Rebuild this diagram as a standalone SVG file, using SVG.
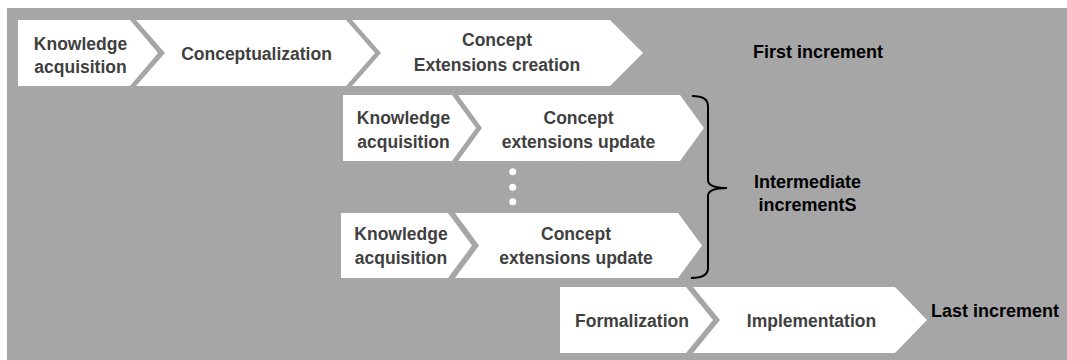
<svg xmlns="http://www.w3.org/2000/svg" width="1067" height="360" viewBox="0 0 1067 360">
<style>
.bg{fill:#a6a6a6}
.chev{fill:#ffffff}
.lbl{font-family:"Liberation Sans",Arial,sans-serif;font-weight:bold;font-size:17.5px;fill:#404040;text-anchor:middle}
.ttl{font-family:"Liberation Sans",Arial,sans-serif;font-weight:bold;font-size:18px;fill:#000000;text-anchor:middle}
.brace{fill:none;stroke:#000000;stroke-width:2}
</style>
<rect class="bg" x="7" y="8" width="1060" height="352"/>
<g id="row1-knowledge">
<polygon class="chev" points="18,20 130,20 158,53 130,86 18,86"/>
<text class="lbl" x="80.5" y="49.5">Knowledge</text>
<text class="lbl" x="80.5" y="73">acquisition</text>
</g>
<g id="row1-conceptualization">
<polygon class="chev" points="136,20 346,20 375,53 346,86 136,86 165,53"/>
<text class="lbl" x="256.5" y="59.5">Conceptualization</text>
</g>
<g id="row1-extensions">
<polygon class="chev" points="352,20 610,20 643,53 610,86 352,86 381,53"/>
<text class="lbl" x="497" y="46">Concept</text>
<text class="lbl" x="497" y="70.5">Extensions creation</text>
</g>
<g id="first-increment">
<text class="ttl" x="818" y="57.5">First increment</text>
</g>
<g id="row2-knowledge">
<polygon class="chev" points="343,95 452,95 476,128 452,161 343,161"/>
<text class="lbl" x="403.5" y="123.5">Knowledge</text>
<text class="lbl" x="403.5" y="147.5">acquisition</text>
</g>
<g id="row2-update">
<polygon class="chev" points="458,95 680,95 704,128 680,161 458,161 482,128"/>
<text class="lbl" x="578.5" y="123.5">Concept</text>
<text class="lbl" x="578.5" y="147.5">extensions update</text>
</g>
<g id="dots">
<circle cx="512.7" cy="171.7" r="3.5" fill="#ffffff"/>
<circle cx="512.7" cy="187.3" r="3.5" fill="#ffffff"/>
<circle cx="512.7" cy="201.7" r="3.5" fill="#ffffff"/>
</g>
<g id="row3-knowledge">
<polygon class="chev" points="341,213 448,213 472,245.5 448,278 341,278"/>
<text class="lbl" x="401" y="240">Knowledge</text>
<text class="lbl" x="401" y="264">acquisition</text>
</g>
<g id="row3-update">
<polygon class="chev" points="455,213 678,213 702,245.5 678,278 455,278 479,245.5"/>
<text class="lbl" x="576" y="240">Concept</text>
<text class="lbl" x="576" y="264">extensions update</text>
</g>
<g id="intermediate-increments">
<text class="ttl" x="807.5" y="187.5">Intermediate</text>
<text class="ttl" x="807.5" y="211">incrementS</text>
</g>
<g id="row4-formalization">
<polygon class="chev" points="560,287 686,287 713,320 686,353 560,353"/>
<text class="lbl" x="632" y="327">Formalization</text>
</g>
<g id="row4-implementation">
<polygon class="chev" points="693,287 895,287 927,320 895,353 693,353 720,320"/>
<text class="lbl" x="811.5" y="327">Implementation</text>
</g>
<g id="last-increment">
<text class="ttl" x="995" y="317">Last increment</text>
</g>
<g id="connectors">
<path class="brace" d="M692,96 Q708,96 708,106 L708,180 Q708,188 727,188 Q708,188 708,196 L708,268 Q708,278 691,278"/>
</g>
</svg>
